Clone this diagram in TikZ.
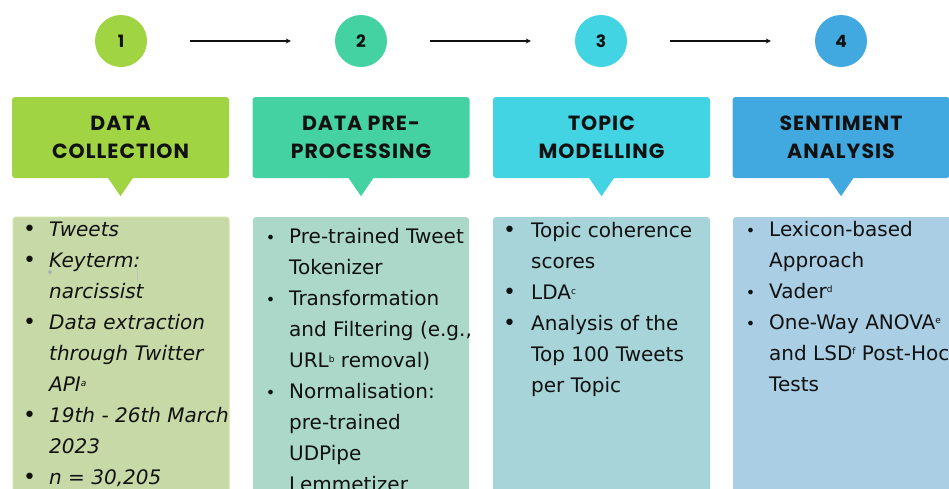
\documentclass[tikz,border=0pt]{standalone}
\usepackage{fontspec}
\setmainfont{DejaVu Sans}
\newfontfamily\headfont{Poppins}[LetterSpace=5]
\usetikzlibrary{arrows.meta}

\definecolor{g1}{HTML}{A1D443}
\definecolor{g2}{HTML}{44D2A2}
\definecolor{g3}{HTML}{42D4E2}
\definecolor{g4}{HTML}{42A8E0}
\definecolor{b1}{HTML}{C7D9A6}
\definecolor{b1edge}{HTML}{D2E6A6}
\definecolor{b2}{HTML}{ABD8C9}
\definecolor{b3}{HTML}{A6D4D8}
\definecolor{b4}{HTML}{AACFE5}
\definecolor{ink}{HTML}{111111}

% bullet hung left of the text, #1 = gap between dot and text, #2 = dot size
\newcommand\bul[2]{\leavevmode\llap{{\fontsize{#2}{#2}\selectfont\textbullet}\hspace{#1pt}}}
% small raised footnote letter
\newcommand\fnmark[1]{\raisebox{5.5pt}{\fontsize{9}{9}\selectfont #1}}

\tikzset{
  circ/.style={circle, minimum size=52pt, inner sep=0pt,
    font=\headfont\bfseries\fontsize{17}{17}\selectfont, text=ink},
  hbox/.style={rounded corners=3pt, minimum width=217pt, minimum height=81pt,
    inner sep=0pt},
  cbox/.style={rounded corners=3pt, inner sep=0pt},
  htext/.style={anchor=base, inner sep=0pt, text=ink,
    font=\headfont\bfseries\fontsize{20.5}{28}\selectfont},
  btext/.style={anchor=base west, inner sep=0pt, text=ink,
    font=\fontsize{20}{31}\selectfont},
  flow/.style={-{Stealth[length=5pt,width=5pt]}, line width=1.3pt, draw=ink},
}

\begin{document}
\begin{tikzpicture}[x=1pt, y=-1pt]
  \clip (0,0) rectangle (949,488);
  \fill[white] (0,0) rectangle (949,488);

  % step numbers
  \node[circ, fill=g1] (c1) at (121,41) {1};
  \node[circ, fill=g2] (c2) at (361,41) {2};
  \node[circ, fill=g3] (c3) at (601,41) {3};
  \node[circ, fill=g4] (c4) at (841,41) {4};

  \draw[flow, shorten <=43pt, shorten >=44pt] (c1.east) -- (c2.west);
  \draw[flow, shorten <=43pt, shorten >=44pt] (c2.east) -- (c3.west);
  \draw[flow, shorten <=43pt, shorten >=44pt] (c3.east) -- (c4.west);

  % step headers with a pointer below
  \node[hbox, fill=g1] (h1) at (120.5,137.5) {};
  \node[hbox, fill=g2] (h2) at (361,137.5) {};
  \node[hbox, fill=g3] (h3) at (601.5,137.5) {};
  \node[hbox, fill=g4] (h4) at (841,137.5) {};
  \foreach \h/\c in {h1/g1, h2/g2, h3/g3, h4/g4}
    \fill[\c] ([xshift=-13pt,yshift=1pt]\h.south) -- ([yshift=-18pt]\h.south)
      -- ([xshift=13pt,yshift=1pt]\h.south) -- cycle;

  \node[htext] (h1t) at (120.5,130) {\parbox[t]{215pt}{\centering DATA\\COLLECTION}};
  \node[htext] (h2t) at (361,130) {\parbox[t]{215pt}{\centering DATA PRE-\\PROCESSING}};
  \node[htext] (h3t) at (601.5,130) {\parbox[t]{215pt}{\centering TOPIC\\MODELLING}};
  \node[htext] (h4t) at (841,130) {\parbox[t]{215pt}{\centering SENTIMENT\\ANALYSIS}};

  % detail panels
  \draw[cbox, fill=b1, draw=b1edge, line width=1pt] (13,217) rectangle (229,520);
  \fill[cbox, b2] (253,217) rectangle (469,520);
  \fill[cbox, b3] (493,217) rectangle (710,520);
  \fill[cbox, b4] (733,217) rectangle (980,520);

  % stray editing marks in the first panel
  \fill[gray!60] (50,272) circle (2pt);
  \draw[gray!50, line width=0.7pt] (137,268) -- (137,281);

  \node[btext] (t1) at (49,236.5) {\parbox[t]{240pt}{\raggedright\itshape
    \bul{13}{22}Tweets\\
    \bul{13}{22}Keyterm:\\
    narcissist\\
    \bul{13}{22}Data extraction\\
    through Twitter\\
    API\fnmark{a}\\
    \bul{13}{22}19th - 26th March\\
    2023\\
    \bul{13}{22}n = 30,205}};

  \node[btext] (t2) at (289,243.5) {\parbox[t]{240pt}{\raggedright
    \bul{14}{16}Pre-trained Tweet\\
    Tokenizer\\
    \bul{14}{16}Transformation\\
    and Filtering (e.g.,\\
    URL\fnmark{b} removal)\\
    \bul{14}{16}Normalisation:\\
    pre-trained\\
    UDPipe\\
    Lemmetizer}};

  \node[btext] (t3) at (531,237.5) {\parbox[t]{240pt}{\raggedright
    \bul{15}{22}Topic coherence\\
    scores\\
    \bul{15}{22}LDA\fnmark{c}\\
    \bul{15}{22}Analysis of the\\
    Top 100 Tweets\\
    per Topic}};

  \node[btext] (t4) at (769,236) {\parbox[t]{240pt}{\raggedright
    \bul{14}{16}Lexicon-based\\
    Approach\\
    \bul{14}{16}Vader\fnmark{d}\\
    \bul{14}{16}One-Way ANOVA\fnmark{e}\\
    and LSD\fnmark{f} Post-Hoc\\
    Tests}};
\end{tikzpicture}
\end{document}
